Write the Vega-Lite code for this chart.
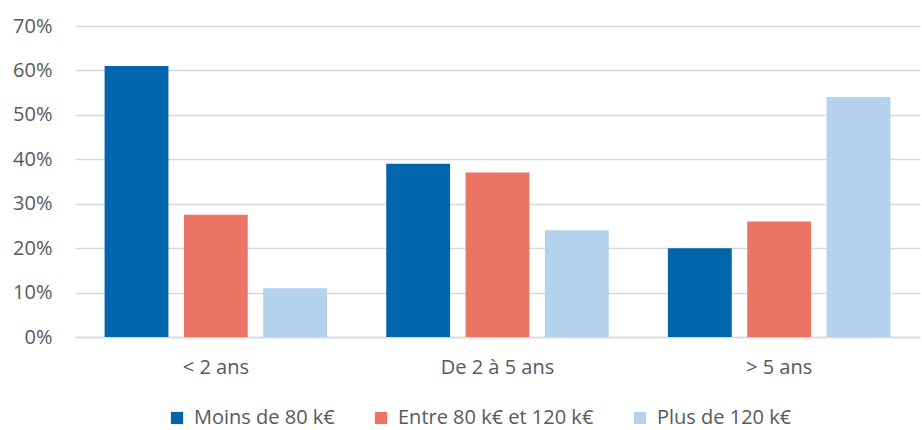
{
  "$schema": "https://vega.github.io/schema/vega-lite/v6.json",
  "width": 845,
  "height": 311,
  "autosize": {"type": "none"},
  "padding": {"left": 75, "top": 26, "right": 2, "bottom": 93},
  "background": "white",
  "config": {
    "view": {"stroke": null},
    "font": "Open Sans"
  },
  "data": {
    "values": [
      {"age": "< 2 ans", "salaire": "Moins de 80 k€", "pct": 0.61},
      {"age": "< 2 ans", "salaire": "Entre 80 k€ et 120 k€", "pct": 0.275},
      {"age": "< 2 ans", "salaire": "Plus de 120 k€", "pct": 0.11},
      {"age": "De 2 à 5 ans", "salaire": "Moins de 80 k€", "pct": 0.39},
      {"age": "De 2 à 5 ans", "salaire": "Entre 80 k€ et 120 k€", "pct": 0.37},
      {"age": "De 2 à 5 ans", "salaire": "Plus de 120 k€", "pct": 0.24},
      {"age": "> 5 ans", "salaire": "Moins de 80 k€", "pct": 0.20},
      {"age": "> 5 ans", "salaire": "Entre 80 k€ et 120 k€", "pct": 0.26},
      {"age": "> 5 ans", "salaire": "Plus de 120 k€", "pct": 0.54}
    ]
  },
  "mark": {"type": "bar"},
  "encoding": {
    "x": {
      "field": "age", "type": "nominal",
      "sort": ["< 2 ans", "De 2 à 5 ans", "> 5 ans"],
      "scale": {"paddingInner": 0.21, "paddingOuter": 0.105},
      "axis": {
        "title": null, "labelAngle": 0, "ticks": false,
        "domainColor": "#d9d9d9", "domainWidth": 1.5,
        "labelFontSize": 20, "labelColor": "#595959", "labelPadding": 20
      }
    },
    "xOffset": {
      "field": "salaire", "type": "nominal",
      "sort": ["Moins de 80 k€", "Entre 80 k€ et 120 k€", "Plus de 120 k€"],
      "scale": {"paddingInner": 0.195, "paddingOuter": 0}
    },
    "y": {
      "field": "pct", "type": "quantitative",
      "scale": {"domain": [0, 0.7], "nice": false},
      "axis": {
        "title": null, "format": ".0%", "values": [0, 0.1, 0.2, 0.3, 0.4, 0.5, 0.6, 0.7],
        "domain": false, "ticks": false, "gridColor": "#d9d9d9", "gridWidth": 1.5,
        "labelFontSize": 20, "labelColor": "#595959", "labelPadding": 23
      }
    },
    "color": {
      "field": "salaire", "type": "nominal",
      "sort": ["Moins de 80 k€", "Entre 80 k€ et 120 k€", "Plus de 120 k€"],
      "scale": {
        "domain": ["Moins de 80 k€", "Entre 80 k€ et 120 k€", "Plus de 120 k€"],
        "range": ["#0066AB", "#EC7464", "#B4D1ED"]
      },
      "legend": {
        "title": null, "orient": "none", "direction": "horizontal",
        "legendX": 92, "legendY": 382,
        "symbolType": "square", "symbolSize": 150, "symbolStrokeWidth": 0,
        "labelFontSize": 20, "labelColor": "#595959", "columnPadding": 36,
        "labelOffset": 7, "labelLimit": 400
      }
    }
  }
}
